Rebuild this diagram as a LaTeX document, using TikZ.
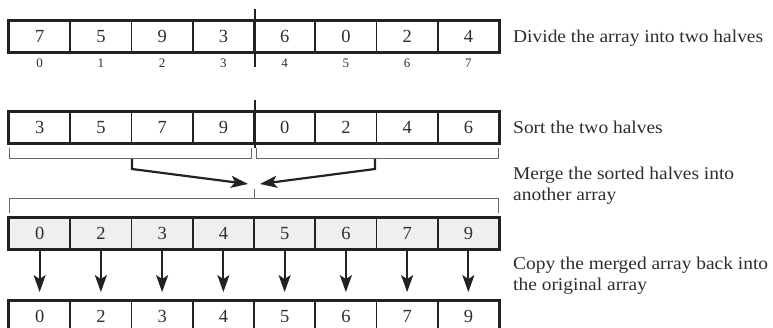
\documentclass[tikz,border=0pt]{standalone}
\usepackage{fontspec}
\setmainfont{Liberation Serif}
\newfontfamily\notefont{Liberation Serif}[FakeStretch=1.08]
\usetikzlibrary{arrows.meta}
\definecolor{ink}{HTML}{222222}
\definecolor{txt}{HTML}{2E2E2E}
\definecolor{shade}{HTML}{EFEFEF}
\definecolor{brk}{HTML}{666666}

\begin{document}
\begin{tikzpicture}[x=1pt,y=-1pt,
  cell/.style={draw=ink, line width=1.8pt, minimum width=61.25pt, minimum height=31pt,
    inner sep=0pt, text=txt, font=\fontsize{18.5}{18.5}\selectfont},
  idx/.style={text=txt, font=\fontsize{13}{13}\selectfont, inner sep=0pt},
  note/.style={text=txt, font=\notefont\fontsize{18}{21.5}\selectfont, align=left,
    anchor=base west, inner sep=0pt},
  outerframe/.style={draw=ink, line width=3pt},
  cutline/.style={draw=ink, line width=2.5pt},
  bracket/.style={draw=brk, line width=1pt},
  flow/.style={draw=ink, line width=2.2pt, -{Stealth[length=17pt,width=12pt,inset=4pt]}},
]
\useasboundingbox (0,0) rectangle (773,328);

% original array with indices
\foreach \v [count=\i from 0] in {7,5,9,3,6,0,2,4}
  \node[cell] (p\i) at ({9+61.25*(\i+0.5)},36.5) {\v};
\draw[outerframe] (p0.north west) rectangle (p7.south east);
\foreach \i in {0,...,7}
  \node[idx] (n\i) at ({9+61.25*(\i+0.5)},63) {\i};
\draw[cutline] ([yshift=11pt]p3.north east) -- ([yshift=-14pt]p3.south east);

% sorted halves
\foreach \v [count=\i from 0] in {3,5,7,9,0,2,4,6}
  \node[cell] (q\i) at ({9+61.25*(\i+0.5)},127.5) {\v};
\draw[outerframe] (q0.north west) rectangle (q7.south east);
\draw[cutline] ([yshift=11pt]q3.north east) -- ([yshift=-4pt]q3.south east);

% brackets under each half
\coordinate (lb) at (132,159);
\coordinate (rb) at (375,159);
\coordinate (mid) at (254,189);
\draw[bracket] (9,148) -- (9,159) -- (251.5,159) -- (251.5,148);
\draw[bracket] (256.5,148) -- (256.5,159) -- (498,159) -- (498,148);

% merge arrows
\draw[flow] (lb) -- (132,169) -- (248,184);
\draw[flow] (rb) -- (375,169) -- (260,184);

% bracket over the merged array
\draw[bracket] (mid) -- (254,199);
\draw[bracket] (9,213) -- (9,199) -- (498,199) -- (498,213);

% merged array
\foreach \v [count=\i from 0] in {0,2,3,4,5,6,7,9}
  \node[cell, fill=shade] (m\i) at ({9+61.25*(\i+0.5)},233.5) {\v};
\draw[outerframe] (m0.north west) rectangle (m7.south east);

% copied back
\foreach \v [count=\i from 0] in {0,2,3,4,5,6,7,9}
  \node[cell] (r\i) at ({9+61.25*(\i+0.5)},316.5) {\v};
\draw[outerframe] (r0.north west) rectangle (r7.south east);

\foreach \i in {0,...,7}
  \draw[flow, shorten >=8pt] (m\i.south) -- (r\i.north);

% step descriptions (base anchor sits on the last line)
\node[note] (t1) at (513,43) {Divide the array into two halves};
\node[note] (t2) at (513,134) {Sort the two halves};
\node[note] (t3) at (513,201) {Merge the sorted halves into\\another array};
\node[note] (t4) at (513,291) {Copy the merged array back into\\the original array};
\end{tikzpicture}
\end{document}
